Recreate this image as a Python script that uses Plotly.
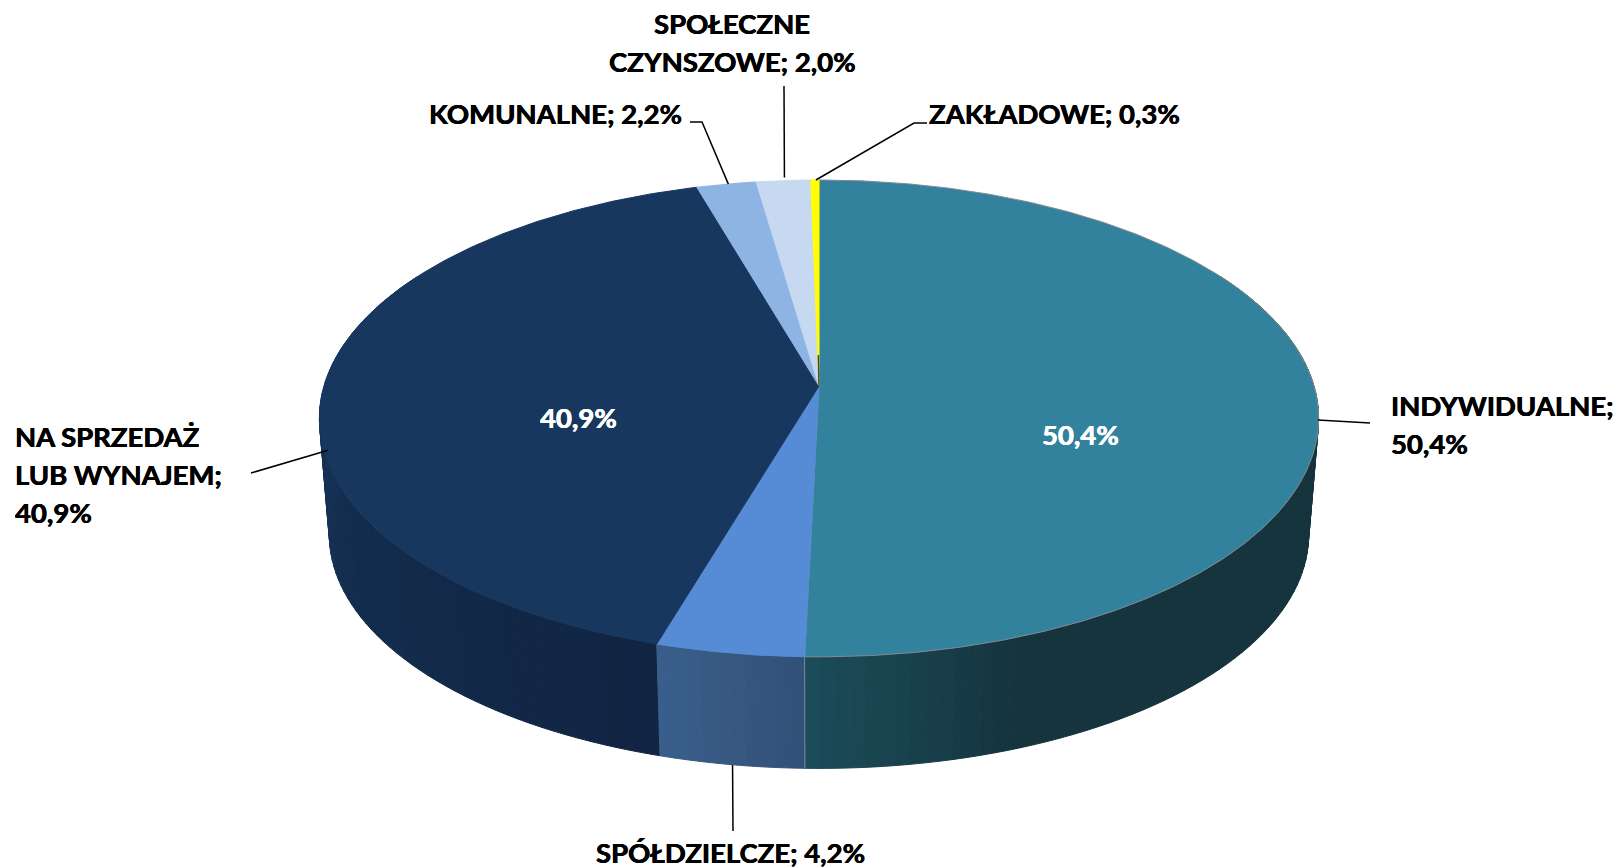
import math
import plotly.graph_objects as go

# ---- data ----
categories = ["INDYWIDUALNE", "SPÓŁDZIELCZE", "NA SPRZEDAŻ LUB WYNAJEM", "KOMUNALNE", "SPOŁECZNE CZYNSZOWE", "ZAKŁADOWE"]
values = [50.4, 4.2, 40.9, 2.2, 2.0, 0.3]
top_colors = ["#33829D", "#558CD5", "#17375E", "#8EB4E3", "#C6D9F1", "#FFFF00"]
wall_near = [(27, 77, 90), (50, 80, 120), (17, 36, 66), (142, 180, 227), (198, 217, 241), (255, 255, 0)]
wall_far = [(21, 52, 62), (58, 95, 140), (21, 50, 86), (142, 180, 227), (198, 217, 241), (255, 255, 0)]
wall_fade_deg = [22, 15.2, 75, 8, 8, 2]

label_lines = [
    ["INDYWIDUALNE;", "50,4%"],
    ["SPÓŁDZIELCZE; 4,2%"],
    ["NA SPRZEDAŻ", "LUB WYNAJEM;", "40,9%"],
    ["KOMUNALNE; 2,2%"],
    ["SPOŁECZNE", "CZYNSZOWE; 2,0%"],
    ["ZAKŁADOWE; 0,3%"],
]

# ---- layout / projection settings ----
W, H = 1615, 867
CX, CY = 819, 386      # pie centre on the top face
A, B, K = 495, 234, 0.136   # perspective projection of the disc
WALL_SCALE, WALL_DY = 0.98, 117
FONT = "Lato"
FS = 27.5
LINE_STEP = 38
SHADOW = "0.35px 0 0 {c}, -0.35px 0 0 {c}"

label_pos = [
    (1389, 405, "left"), (730, 852, "center"), (13, 436, "left"),
    (684, 113, "right"), (732, 23, "center"), (927, 113, "left"),
]
# offset of each leader's tip from the slice's mid-rim point, then its outer bends
leader_tip_offset = [(3, 31), (3, 112), (4, 65), (2, 0), (1, -3), (1, 0)]
leader_bends = [
    [(1370, 423)], [(733, 831)], [(251, 473)],
    [(702, 122), (690, 122)], [(784, 86)], [(914, 123), (927, 123)],
]
inner_labels = [(1080, 434), None, (578, 417), None, None, None]
YELLOW_TIP_SHARE = 0.15   # part of the thinnest slice that renders dark near the centre


def proj(theta_deg, scale=1.0, dy=0.0):
    t = math.radians(theta_deg)
    X, Y = math.sin(t), math.cos(t)
    w = 1 + K * Y
    return CX + scale * A * X / w, CY + dy - scale * B * Y / w


def arc(a0, a1, step=0.5, scale=1.0, dy=0.0):
    n = max(2, int(abs(a1 - a0) / step) + 1)
    return [proj(a0 + (a1 - a0) * i / (n - 1), scale, dy) for i in range(n)]


def mix(c0, c1, t):
    t = max(0.0, min(1.0, t))
    return "rgb(%d,%d,%d)" % tuple(round(c0[i] + (c1[i] - c0[i]) * t) for i in range(3))


total = sum(values)
bounds = [0.0]
for v in values:
    bounds.append(bounds[-1] + 360.0 * v / total)

fig = go.Figure()


def poly(points, color, name, line_color=None, line_width=1):
    fig.add_trace(go.Scatter(
        x=[p[0] for p in points], y=[p[1] for p in points], mode="lines",
        fill="toself", fillcolor=color, name=name, hoverinfo="skip",
        line=dict(color=line_color or color, width=line_width),
    ))


def path(points, color, width, name):
    fig.add_trace(go.Scatter(
        x=[p[0] for p in points], y=[p[1] for p in points], mode="lines",
        name=name, hoverinfo="skip", line=dict(color=color, width=width),
    ))


# side wall, painted as narrow bands so the shading can vary along the rim
order = [2, 0, 1]
for i in order:
    a0, a1 = bounds[i], bounds[i + 1]
    # "near" end of the shading is the end closest to the front seam
    near_is_end = i == 0
    lo, hi = max(a0, 60), min(a1, 300)
    steps = max(1, int((hi - lo) / 1.5))
    for s in range(steps):
        b0 = lo + (hi - lo) * s / steps
        b1 = lo + (hi - lo) * (s + 1) / steps
        mid = (b0 + b1) / 2
        dist = (a1 - mid) if near_is_end else (mid - a0)
        col = mix(wall_near[i], wall_far[i], dist / wall_fade_deg[i])
        pts = arc(b0, b1, 0.5) + arc(b1, b0, 0.5, WALL_SCALE, WALL_DY)
        poly(pts + [pts[0]], col, categories[i])

# seam between the two front wall pieces
seam = bounds[1]
path([proj(seam), proj(seam, WALL_SCALE, WALL_DY)], "#7F8A8C", 1, "seam")

# top face
edge_colors = ["#808A90", None, None, None, None, None]
for i in range(len(values)):
    pts = [(CX, CY)] + arc(bounds[i], bounds[i + 1]) + [(CX, CY)]
    poly(pts, top_colors[i], categories[i], line_color=edge_colors[i] or top_colors[i])

# dark tip of the thinnest slice, where it narrows to the centre
ex, ey = proj((bounds[-2] + bounds[-1]) / 2)
path([(CX, CY), (CX + (ex - CX) * YELLOW_TIP_SHARE, CY + (ey - CY) * YELLOW_TIP_SHARE)],
     "#3A4A40", 1.5, "tip")

# leader lines
for i in range(len(values)):
    mx, my = proj((bounds[i] + bounds[i + 1]) / 2)
    dx, dy = leader_tip_offset[i]
    path([(mx + dx, my + dy)] + leader_bends[i], "#000000", 1.5, "leader " + categories[i])

# text
annotations = []
for lines, (x, y, anchor) in zip(label_lines, label_pos):
    for j, line in enumerate(lines):
        annotations.append(dict(
            x=x, y=y + j * LINE_STEP, xref="x", yref="y", text=line, showarrow=False,
            xanchor=anchor, yanchor="middle", height=30,
            font=dict(family=FONT, size=FS, color="#000000", weight="bold",
                      shadow=SHADOW.format(c="#000000")),
        ))
for v, pos in zip(values, inner_labels):
    if pos:
        annotations.append(dict(
            x=pos[0], y=pos[1], xref="x", yref="y",
            text=f"{v:.1f}".replace(".", ",") + "%", showarrow=False, height=30,
            font=dict(family=FONT, size=FS, color="#FFFFFF", weight="bold",
                      shadow=SHADOW.format(c="#FFFFFF")),
        ))

fig.update_layout(
    width=W, height=H, autosize=False, showlegend=False,
    margin=dict(l=0, r=0, t=0, b=0),
    paper_bgcolor="#FFFFFF", plot_bgcolor="#FFFFFF",
    xaxis=dict(range=[0, W], visible=False, fixedrange=True),
    yaxis=dict(range=[H, 0], visible=False, fixedrange=True),
    annotations=annotations,
)
fig.write_html("out.html", config={"displayModeBar": False},
               post_script="document.body.style.margin='0';document.body.style.overflow='hidden';")
